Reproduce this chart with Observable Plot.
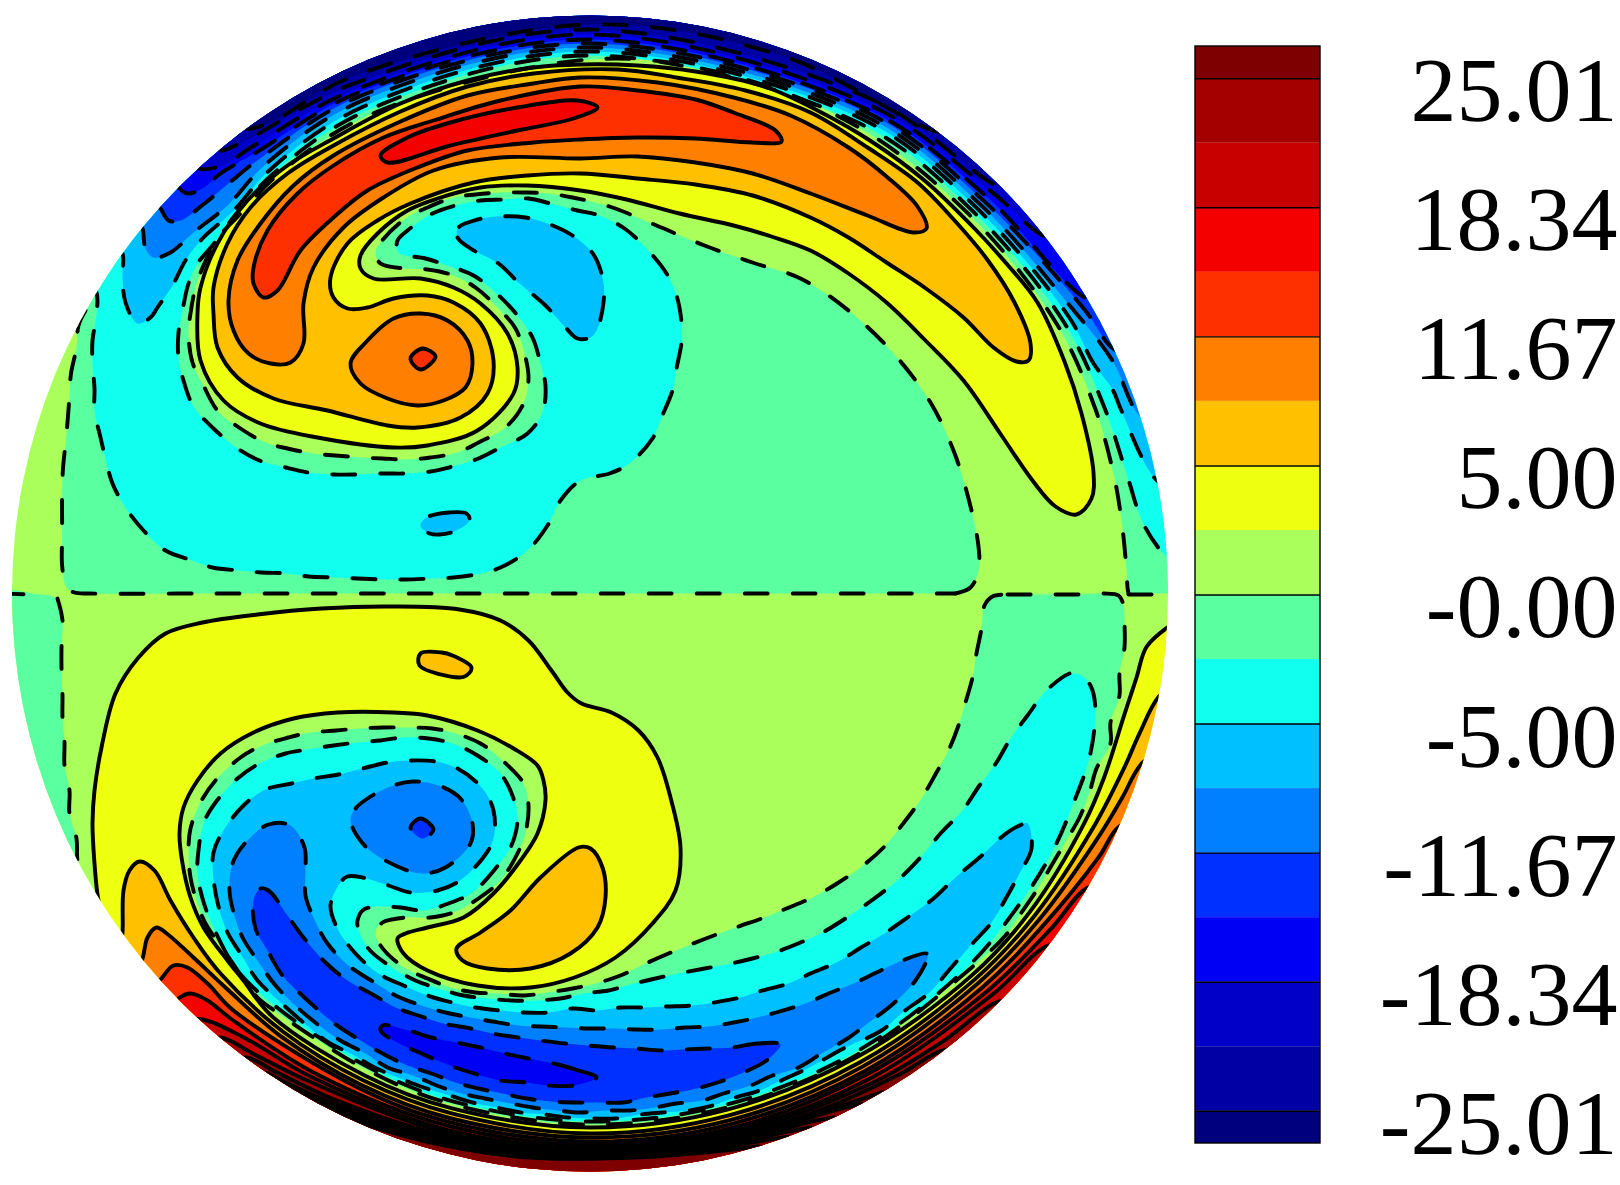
<!DOCTYPE html>
<html><head><meta charset="utf-8">
<script src="https://cdn.jsdelivr.net/npm/d3@7"></script>
<script src="https://cdn.jsdelivr.net/npm/@observablehq/plot@0.6"></script>
<style>html,body{margin:0;background:#fff}#c{position:relative;width:1620px;height:1185px;overflow:hidden}#c svg{position:absolute;top:0;background:transparent;max-width:none}</style>
</head><body><div id="c"></div>
<script>
// ---- colour bands (top of bar to bottom)
const bandKeys=["p8","p7","p6","p5","p4","p3","p2","p1","p0","n0","n1","n2","n3","n4","n5","n6","n7","n8"];
const bandColors=["#7f0000","#a50000","#c80000","#f50000","#ff3000","#ff7f00","#ffc000","#eeff10","#aaff5a","#5aff9f","#10ffee","#00c0ff","#007fff","#0030ff","#0000f5","#0000c8","#0000a5","#00007f"];
const barLow=[8,7,6,5,4,3,2,1,0,-1,-2,-3,-4,-5,-6,-7,-8,-8.5];
const barHigh=[8.5,8,7,6,5,4,3,2,1,0,-1,-2,-3,-4,-5,-6,-7,-8];
const tickLevels=[8,6,4,2,0,-2,-4,-6,-8];
const tickLabels=["25.01","18.34","11.67","5.00","-0.00","-5.00","-11.67","-18.34","-25.01"];

// ---- sphere disc in reference pixel units
const cx=589.5, cy=593, R=578;
const polar=a=>a.map(([t,r])=>[cx+r*Math.sin(t*Math.PI/180),cy-r*Math.cos(t*Math.PI/180)]);
const farTop=[[1260,-60],[-60,-60]], farBottom=[[1260,1260],[-60,1260]];

// ---- northern hemisphere contours
const upGreen=[[85,310],[78,325],[76,347],[70.5,373],[69,395],[67,422],[65,443],[62.5,468],[61.6,492],[61.6,517],[61.6,538],[61.6,565],[66,587],[74,592],[89,593],[200,593],[400,593],[600,593],[800,593],[940,593],[955,593]];
const upTongue=[[955,593],[970,587],[978,570],[978,546],[968,498],[953,450],[930,402],[894,354],[848,310],[800,278],[752,262],[704,245],[656,225],[609,206],[572,197],[548,193],[523,192],[500,192],[475,194],[453,197],[427,207],[405,218],[380,242],[375,252],[380,263],[405,268],[427,269],[453,275],[475,287],[498,308],[515,328],[525,357],[528,378],[523,403],[505,427],[478,442],[457,452],[430,457],[407,459],[382,458],[360,457],[335,455],[313,453],[287,448],[265,442],[240,428],[217,410],[202,383],[192,362],[188,333],[190,313],[195,287],[203,265],[217,238]];
const rimZeroTop=[[-43,516],[-37,522],[-25,527],[0,534],[15,537],[30,538],[45,536],[60,539],[70,538],[77.4,537],[82.2,536.5]];
const upTongueEnd=[[1126,569],[1127,587],[1128,593]];
const upYellow=[[1076,514],[1055,506],[1032,480],[1001,435],[963,380],[924,339],[886,302],[848,273],[810,250],[771,236],[733,225],[679,213],[626,199],[580,190],[527,185],[480,187],[437,198],[407,210],[377,233],[360,255],[360,268],[373,278],[420,278],[453,287],[480,303],[507,333],[517,367],[513,393],[477,430],[427,445],[393,447],[317,437],[260,423],[223,400],[200,360],[197,313],[200,287],[217,243],[247,200],[287,165],[333,138],[400,103],[467,80],[533,67],[580,64],[637,65],[695,71],[764,86],[817,110],[871,141],[924,180],[974,228],[1005,262],[1037,302],[1064,361],[1081,413],[1093,472],[1091,498]];
const upGold=[[1028,360],[1016,361],[993,347],[963,317],[924,287],[886,262],[848,237],[810,217],[752,195],[695,184],[637,178],[580,173],[527,175],[473,182],[410,203],[377,220],[347,243],[330,277],[333,297],[347,308],[367,307],[393,298],[427,295],[453,302],[480,323],[493,360],[487,393],[460,417],[417,427],[387,425],[327,410],[273,398],[237,377],[217,347],[213,313],[213,287],[227,243],[250,207],[287,173],[333,145],[400,111],[467,86],[533,73],[618,69],[676,77],[745,90],[810,112],[867,147],[917,182],[955,221],[986,258],[1014,302],[1030,343]];
const upOrangeArm=[[926,228],[913,232],[867,215],[810,193],[752,173],[695,162],[637,156],[580,158],[500,157],[433,170],[383,197],[343,227],[313,267],[303,303],[303,343],[290,362],[270,363],[248,353],[233,330],[228,300],[237,260],[260,223],[293,185],[333,155],[400,121],[467,95],[533,83],[580,77],[657,82],[733,97],[790,115],[848,147],[886,176],[917,206]];
const upOrangeCore=[[350,363],[367,340],[393,318],[420,313],[447,320],[467,340],[472,363],[465,387],[443,400],[417,405],[387,398],[360,383]];
const upRedArm=[[781,141],[752,142],[695,138],[637,137],[580,139],[533,142],[467,150],[417,167],[367,190],[333,217],[300,250],[277,290],[263,297],[253,283],[253,267],[267,230],[297,193],[333,165],[383,137],[433,120],[500,100],[580,86],[637,90],[695,99],[733,112],[775,130]];
const upRedCore=[[410,358],[422,348],[435,356],[420,369]];
const upRedTip=[[597,107],[577,100],[517,107],[450,122],[407,137],[380,155],[387,162],[450,145],[517,130],[573,118]];
const upCyan=[[90,285],[96,292],[96,315],[92,340],[92,362],[94,388],[94,410],[100,437],[105,458],[112,483],[125,507],[143,530],[165,550],[192,560],[212,567],[239,570],[261,572],[288,573],[308,576],[335,577],[357,578],[384,579],[404,579],[431,578],[453,577],[480,573],[500,567],[527,550],[547,525],[560,500],[580,480],[609,473],[629,463],[652,438],[661,417],[672,390],[676,368],[681,342],[681,322],[676,295],[666,273],[645,247],[624,228],[599,215],[577,210],[550,203],[528,198],[503,199],[480,200],[455,205],[432,213],[407,230],[397,240],[398,252],[425,258],[447,265],[473,275],[495,292],[517,315],[532,337],[540,363],[545,385],[542,412],[527,433],[500,447],[478,458],[452,466],[430,471],[405,473],[382,473],[357,474],[333,474],[308,472],[285,467],[259,460],[237,448],[213,428],[193,406],[183,380],[178,358],[178,332],[182,310],[188,283],[197,263],[212,245]];
const rimCyanTop=[[-43,519],[-37,526],[-25,532],[0,538],[30,542],[45,541],[60,546],[70,547],[77.7,550],[82.9,558],[86.4,578],[88,600]];
const upBlob=[[458,227],[457,237],[470,248],[498,263],[518,282],[545,305],[565,327],[577,338],[590,337],[597,328],[603,302],[603,282],[593,254],[572,235],[547,223],[525,217],[498,216],[477,219]];
const upSpeck=[[426,517],[449,512],[466,513],[469,520],[451,532],[429,533],[420,525]];
const lobeSky=[[115,245],[122,253],[122,277],[125,302],[137,323],[150,317],[157,307],[172,285],[185,260],[202,238]];
const rimSkyTop=[[-43,523],[-37,531],[-25,537],[0,542],[30,547],[45,546],[60,553],[65.4,553.5],[68.7,561],[71,562],[78.7,578],[80,600]];
const lobeAzure=[[138,222],[142,228],[145,248],[153,257],[170,252],[193,232]];
const rimAzureTop=[[-43,531],[-37,538],[-25,543],[0,546],[30,551],[45,551],[60,561],[66,572],[72.2,578],[74,600]];
const lobeBlue=[[157,205],[160,208],[168,220],[180,220],[204,203],[228,183]];
const rimBlueTop=[[-37,546],[-25,548],[0,550],[30,555],[45,556],[60,570],[65,578],[67,600]];
const lobePure=[[175,183],[178,187],[187,193],[202,188],[220,173]];
const rimPureTop=[[-37,553],[-25,552],[0,554],[30,558],[45,561],[59.4,578],[61,600]];
const lobeDeep=[[195,163],[198,168],[222,165]];
const rimDeepTop=[[-37,560],[-25,556],[0,559],[30,563],[45,568],[51.8,578],[54,600]];
const lobeDark=[[217,145],[220,150],[245,140]];
const rimDarkTop=[[-25,562],[0,564],[30,569],[45.5,578],[48,600]];
const lobeNavy=[[242,123],[245,128],[270,122]];
const rimNavyTop=[[-25,569],[0,569],[20,571],[37,578],[40,600]];

// ---- southern hemisphere contours
const lowWedge=[[57,598],[62,620],[61,647],[61,668],[62,695],[62,717],[64,742],[64,765],[69,790],[69,813],[76,838],[77,860],[83,880]];
const lowGreenA=[[1007,594],[1031,594],[1055,594],[1079,594],[1103,593],[1118,595],[1123,605],[1124,623],[1124,647],[1119,673],[1119,695],[1110,722],[1110,743],[1096,768],[1089,792],[1079,817],[1067,838],[1051,865],[1038,887],[1021,912],[1005,935],[970,968]];
const rimZeroBottom=[[150,533],[165,532],[180,531],[195,529],[205,526],[217,523]];
const lowGreenB=[[257,997],[242,977],[225,952],[205,923],[195,897],[190,877],[188,850],[190,828],[200,802],[215,780],[240,757],[262,745],[288,737],[310,732],[336,730],[358,728],[383,727],[407,727],[432,728],[455,733],[480,743],[502,760],[523,783],[528,805],[525,832],[517,853],[500,880],[478,898],[453,912],[430,917],[405,917],[382,922],[375,932],[380,945],[402,966],[427,978],[450,987],[475,992],[498,993],[523,995],[547,992],[572,988],[595,983],[620,975],[643,964],[668,953],[690,944],[716,934],[738,926],[764,917],[786,908],[812,897],[835,884],[860,867],[883,847],[905,820],[921,798],[936,772],[948,750],[958,725],[965,702],[972,677],[976,653],[981,628],[984,605],[992,596],[1007,594]];
const lowYellow=[[99,905],[97,894],[94,863],[92,823],[94,790],[101,747],[115,693],[138,657],[165,633],[202,622],[257,614],[321,608],[390,606],[459,609],[500,620],[528,640],[551,670],[567,692],[581,703],[611,712],[638,730],[657,757],[670,797],[680,847],[675,890],[652,923],[615,957],[574,977],[530,987],[477,985],[427,970],[403,953],[397,938],[405,933],[427,927],[463,917],[493,893],[520,860],[537,833],[545,800],[543,780],[537,765],[513,748],[477,730],[427,715],[393,712],[337,712],[293,718],[253,732],[220,753],[197,780],[183,807],[179,833],[182,863],[190,897],[203,927],[227,960],[243,980]];
const rimYellowBottom=[[217,529],[205,532],[195,533],[180,534],[165,534],[150,535],[135,540],[126,543],[115,545],[109.8,546],[102.7,548],[98.7,553],[95.5,559],[93.4,578],[92,600]];
const lowGoldLobe=[[578,847],[590,848],[602,867],[605,897],[597,927],[570,953],[530,968],[487,968],[462,960],[456,948],[480,932],[510,910],[540,877]];
const lowGoldSpeck=[[420,653],[419,665],[459,677],[466,675],[471,667],[452,655],[441,652]];
const lowGoldEdge=[[120,945],[122,932],[123,890],[129,870],[139,861],[154,870],[170,900],[193,937],[220,973]];
const rimGoldBottom=[[215,535],[205,537],[195,538],[180,540],[165,540],[150,541],[135,545],[126,549],[115,555],[108,562],[104.3,567],[100.3,578],[98,600]];
const lowOrangeEdge=[[138,965],[142,958],[147,937],[156,927],[165,932],[193,957],[225,987]];
const rimOrangeBottom=[[215,540],[205,542],[195,543],[180,544],[165,545],[150,546],[135,550],[126,555],[115,564.5],[111,570],[107,578],[105,600]];
const lowRedEdge=[[155,985],[161,978],[173,965],[187,967],[207,983],[233,1010]];
const rimRedBottom=[[205,546],[195,547],[180,548],[165,549],[150,551],[135,556],[126,562],[117.4,573],[113.8,578],[112,600]];
const lowPureRedEdge=[[172,1005],[178,998],[190,993],[207,1000],[230,1018]];
const rimPureRedBottom=[[210,553],[195,551],[180,551],[165,553],[150,555],[135,562],[126,570],[120.6,578],[119,600]];
const rimP6=[[224,600],[222.6,578],[218,563],[210,558],[195,555],[180,554],[165,556],[150,560],[135,568],[127.5,578],[126,600]];
const rimP7=[[221,600],[219.8,578],[216,570],[210,563],[195,558],[180,557],[165,559],[150,565],[142,570],[134.9,578],[133,600]];
const rimP8=[[218,600],[216.6,578],[213,572],[207,567],[195,561],[180,560],[165,562],[155,566],[147,572],[142.1,578],[140,600]];
const rimExtra=[
 [[214,578],[208,572],[195,564],[180,561.5],[165,564],[155,569],[149.6,578]],
 [[212,578],[205,572],[195,565.5],[180,562.5],[165,565.5],[155,571],[152,578]],
 [[210,578],[203,572],[193,567],[180,563.5],[165,567],[157,573],[155,578]],
 [[208,578],[200,571],[190,567],[180,564.5],[165,568.5],[160,573],[157.5,578]],
 [[206,578],[198,572],[188,568],[180,565],[170,568],[163,573],[160,578]],
 [[204,578],[195,571],[185,566.5],[175,566],[168,571],[163,578]]
];
const lowCyan=[[1074,673],[1069,673],[1046,690],[1027,715],[1010,738],[996,762],[979,785],[962,810],[940,833],[919,858],[897,880],[871,900],[848,916],[822,932],[800,942],[774,952],[752,958],[726,964],[704,968],[678,973],[655,978],[630,984],[608,990],[583,993],[560,998],[535,1000],[512,1000],[487,998],[463,995],[438,988],[415,980],[390,966],[367,947],[357,925],[357,920],[362,910],[375,906],[400,907],[423,910],[448,903],[472,892],[495,868],[510,847],[517,820],[513,798],[500,773],[477,755],[452,743],[428,738],[403,737],[380,740],[357,742],[333,745],[307,749],[285,753],[259,763],[237,778],[215,802],[203,823],[198,850],[197,872],[202,898],[213,927],[237,970]];
const rimCyanBottom=[[217,519],[205,523],[195,526],[180,528],[165,529],[150,530],[135,531],[125.4,530],[119.2,529.6],[113.5,527],[108,525.6],[102.7,518]];
const lowCyanTip=[[1090,685],[1081,675]];
const lowSky=[[1027,823],[1019,825],[1003,835],[979,857],[955,877],[933,898],[907,917],[884,933],[859,948],[836,962],[810,973],[788,983],[762,990],[740,997],[714,1002],[692,1005],[666,1006],[643,1007],[620,1007],[597,1010],[572,1008],[548,1012],[523,1012],[500,1010],[475,1007],[452,1002],[427,995],[403,985],[378,973],[355,953],[337,928],[330,905],[340,882],[347,876],[362,877],[388,885],[410,892],[437,890],[458,881],[482,858],[493,838],[493,810],[482,788],[457,768],[435,761],[410,760],[387,762],[362,768],[338,774],[313,778],[291,783],[265,789],[243,805],[223,830],[213,852],[213,878],[218,906],[227,932],[240,953],[257,980],[278,1000],[304,1023],[328,1042],[352,1054],[374,1067],[400,1078],[423,1087],[449,1095],[472,1102],[496,1107],[520,1112],[544,1114],[567,1117],[593,1118],[615,1118],[640,1114],[662,1112],[688,1110],[712,1105],[735,1097],[759,1090],[785,1078],[807,1068],[843,1048],[881,1030],[902,1012],[929,992],[950,968],[972,943],[991,922],[1007,895],[1019,873],[1031,848]];
const lowAzure=[[927,957],[926,953],[902,960],[876,972],[853,983],[828,993],[805,1003],[779,1011],[757,1017],[733,1022],[709,1026],[685,1027],[661,1029],[636,1029],[613,1028],[588,1028],[565,1027],[540,1026],[518,1025],[492,1021],[470,1017],[445,1012],[421,1005],[395,995],[374,982],[348,965],[327,943],[313,917],[305,895],[305,870],[304,847],[290,825],[268,824],[245,842],[232,863],[229,890],[233,912],[242,937],[257,960],[275,985],[297,1007],[316,1023],[340,1040],[365,1053],[387,1067],[413,1075],[436,1085],[461,1093],[484,1098],[510,1103],[532,1107],[557,1110],[579,1112],[605,1110],[629,1110],[654,1107],[676,1103],[702,1100],[723,1093],[750,1085],[772,1075],[798,1067],[821,1053],[847,1038],[867,1023],[893,1003],[915,980]];
const lowAzureCore=[[350,820],[355,808],[367,798],[390,786],[412,781],[438,785],[460,798],[472,823],[470,843],[445,867],[422,873],[397,866],[365,846]];
const lowBlueCore=[[410,827],[420,818],[433,829],[422,838]];
const lowBlue=[[780,1044],[757,1043],[731,1047],[709,1048],[684,1049],[661,1050],[635,1048],[613,1047],[587,1045],[565,1043],[540,1040],[518,1037],[492,1033],[470,1028],[443,1023],[421,1016],[395,1007],[374,995],[347,980],[325,962],[303,937],[287,915],[268,890],[260,888],[253,900],[255,928],[267,950],[282,975],[305,998],[334,1023],[360,1040],[382,1053],[407,1065],[431,1073],[455,1082],[478,1088],[502,1093],[526,1098],[551,1101],[574,1102],[599,1102],[623,1102],[646,1097],[670,1093],[696,1088],[717,1082],[743,1072],[766,1060]];
const lowPure=[[596,1077],[575,1069],[553,1063],[528,1058],[504,1053],[480,1047],[456,1042],[431,1037],[408,1030],[382,1025],[380,1030],[395,1041],[421,1053],[452,1066],[477,1074],[500,1080],[526,1082],[548,1085],[573,1085]];
const stubLeft=[[0,593],[32,594]];
const stubRight=[[1128,594],[1175,594]];

// layer order: each later polygon paints over the earlier ones; ring = closed contour
const layers=[
 {band:"p0",line:null,pts:[],extra:[[-60,-60],[1260,-60],[1260,1260],[-60,1260]]},
 {band:"n0",line:"dash",pts:upGreen,extra:[[1180,593],[1190,593],[1200,593],[1260,593],[1260,-60],[-60,-60],[-60,300]]},
 {band:"p0",line:"dash",pts:[...upTongue,...polar(rimZeroTop),...upTongueEnd],extra:[]},
 {band:"p1",line:"solid",ring:true,pts:upYellow},
 {band:"p2",line:"solid",ring:true,pts:upGold},
 {band:"p3",line:"solid",ring:true,pts:upOrangeArm},
 {band:"p3",line:"solid",ring:true,pts:upOrangeCore},
 {band:"p4",line:"solid",ring:true,pts:upRedArm},
 {band:"p4",line:"solid",ring:true,pts:upRedCore},
 {band:"p5",line:"solid",ring:true,pts:upRedTip},
 {band:"n1",line:"dash",pts:[...upCyan,...polar(rimCyanTop)],extra:farTop},
 {band:"n2",line:"dash",ring:true,pts:upBlob},
 {band:"n2",line:"dash",ring:true,pts:upSpeck},
 {band:"n2",line:"dash",pts:[...lobeSky,...polar(rimSkyTop)],extra:farTop},
 {band:"n3",line:"dash",pts:[...lobeAzure,...polar(rimAzureTop)],extra:farTop},
 {band:"n4",line:"dash",pts:[...lobeBlue,...polar(rimBlueTop)],extra:farTop},
 {band:"n5",line:"dash",pts:[...lobePure,...polar(rimPureTop)],extra:farTop},
 {band:"n6",line:"dash",pts:[...lobeDeep,...polar(rimDeepTop)],extra:farTop},
 {band:"n7",line:"dash",pts:[...lobeDark,...polar(rimDarkTop)],extra:farTop},
 {band:"n8",line:"dash",pts:[...lobeNavy,...polar(rimNavyTop)],extra:farTop},
 {band:"n0",line:"dash",pts:lowWedge,extra:[[-60,880],[-60,594],[40,594],[50,595]]},
 {band:"n0",line:"dash",pts:[...lowGreenA,...polar(rimZeroBottom),...lowGreenB],extra:[]},
 {band:"p1",line:"solid",pts:[...lowYellow,...polar(rimYellowBottom)],extra:farBottom},
 {band:"p2",line:"solid",ring:true,pts:lowGoldLobe},
 {band:"p2",line:"solid",ring:true,pts:lowGoldSpeck},
 {band:"p2",line:"solid",pts:[...lowGoldEdge,...polar(rimGoldBottom)],extra:farBottom},
 {band:"p3",line:"solid",pts:[...lowOrangeEdge,...polar(rimOrangeBottom)],extra:farBottom},
 {band:"p4",line:"solid",pts:[...lowRedEdge,...polar(rimRedBottom)],extra:farBottom},
 {band:"p5",line:"solid",pts:[...lowPureRedEdge,...polar(rimPureRedBottom)],extra:farBottom},
 {band:"p6",line:"solid",pts:polar(rimP6),extra:farBottom},
 {band:"p7",line:"solid",pts:polar(rimP7),extra:farBottom},
 {band:"p8",line:"solid",pts:polar(rimP8),extra:farBottom},
 {band:"n1",line:"dash",ring:true,pts:[...lowCyan,...polar(rimCyanBottom),...lowCyanTip]},
 {band:"n2",line:"dash",ring:true,pts:lowSky},
 {band:"n3",line:"dash",ring:true,pts:lowAzure},
 {band:"n3",line:"dash",ring:true,pts:lowAzureCore},
 {band:"n4",line:"dash",ring:true,pts:lowBlue},
 {band:"n4",line:"dash",ring:true,pts:lowBlueCore},
 {band:"n5",line:"dash",ring:true,pts:lowPure},
 {band:null,line:"dash",pts:stubLeft},
 {band:null,line:"dash",pts:stubRight},
 ...rimExtra.map(r=>({band:null,line:"solid",pts:polar(r)}))
];

const toRows=(pts,band)=>pts.map(([x,y])=>({x,y,band}));
const curveOf=l=>l.ring?"catmull-rom-closed":"catmull-rom";
const fillMarks=layers.filter(l=>l.band).map(l=>
  Plot.line(toRows([...l.pts,...(l.extra||[])],l.band),{x:"x",y:"y",fill:"band",stroke:"none",curve:curveOf(l)}));
const strokeMarks=layers.filter(l=>l.line).map(l=>
  Plot.line(toRows(l.pts),{x:"x",y:"y",stroke:"#000",strokeWidth:3.9,curve:curveOf(l),
    strokeDasharray:l.line==="dash"?"23,25":null}));
const colorScale={type:"ordinal",domain:bandKeys,range:bandColors};

const disc=Plot.plot({
  width:1180,height:1185,margin:0,
  style:{left:"0px",overflow:"hidden"},
  x:{domain:[0,1180],range:[0,1180],axis:null},
  y:{domain:[0,1185],range:[0,1185],axis:null},
  color:colorScale,
  marks:[...fillMarks,...strokeMarks]
});
// clip every mark to the sphere's limb
const sx=disc.scale("x").apply, sy=disc.scale("y").apply;
const ns="http://www.w3.org/2000/svg";
const cp=document.createElementNS(ns,"clipPath"); cp.setAttribute("id","limb");
const circ=document.createElementNS(ns,"circle");
circ.setAttribute("cx",sx(cx));circ.setAttribute("cy",sy(cy));circ.setAttribute("r",sx(cx+R)-sx(cx));
cp.appendChild(circ);disc.appendChild(cp);
disc.querySelectorAll('g[aria-label="line"]').forEach(g=>g.setAttribute("clip-path","url(#limb)"));

const barRows=bandKeys.map((band,i)=>({band,low:barLow[i],high:barHigh[i],a:0,b:1}));
const tickRows=tickLevels.map((p,i)=>({p,label:tickLabels[i],a:0,b:1}));
const outline=[{low:-8.5,high:8.5,a:0,b:1}];
const bar=Plot.plot({
  width:440,height:1185,marginTop:0,marginBottom:0,marginLeft:0,marginRight:3,
  style:{left:"1180px",overflow:"visible"},
  x:{domain:[0,1],range:[15,140],axis:null},
  y:{domain:[8.5,-8.5],range:[46,1143],axis:null},
  color:colorScale,
  marks:[
    Plot.rect(barRows,{x1:"a",x2:"b",y1:"low",y2:"high",fill:"band"}),
    Plot.ruleY(tickRows,{y:"p",x1:"a",x2:"b",stroke:"#000",strokeWidth:1.4}),
    Plot.rect(outline,{x1:"a",x2:"b",y1:"low",y2:"high",fill:"none",stroke:"#000",strokeWidth:1.4}),
    Plot.text(tickRows,{y:"p",text:"label",frameAnchor:"right",textAnchor:"end",dy:13,fontFamily:"Liberation Serif",fontSize:92,fill:"#000"})
  ]
});
const host=document.getElementById("c");host.appendChild(disc);host.appendChild(bar);
</script></body></html>
